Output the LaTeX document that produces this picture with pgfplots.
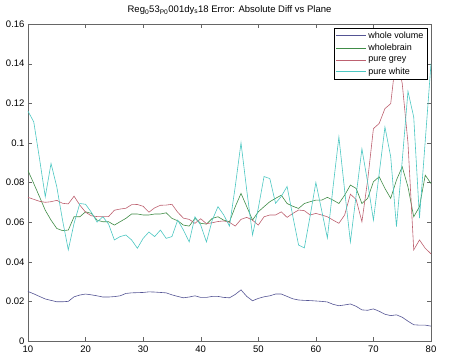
\documentclass[border=0pt]{standalone}
\usepackage{pgfplots}
\pgfplotsset{compat=1.18}
\usepackage{fontspec}
\setmainfont{Liberation Sans}
\definecolor{cvol}{rgb}{0.33,0.33,0.58}
\definecolor{cbrain}{rgb}{0.25,0.55,0.28}
\definecolor{cgrey}{rgb}{0.74,0.38,0.44}
\definecolor{cwhite}{rgb}{0.30,0.78,0.76}
\pgfplotstableread{
x vol brain grey white
10 0.0250 0.0860 0.0725 0.1160
11 0.0238 0.0795 0.0715 0.1106
12 0.0225 0.0728 0.0705 0.0920
13 0.0212 0.0660 0.0700 0.0728
14 0.0205 0.0610 0.0703 0.0896
15 0.0198 0.0568 0.0710 0.0778
16 0.0198 0.0557 0.0695 0.0610
17 0.0200 0.0560 0.0692 0.0460
18 0.0223 0.0627 0.0731 0.0594
19 0.0232 0.0627 0.0686 0.0694
20 0.0237 0.0652 0.0650 0.0690
21 0.0233 0.0644 0.0632 0.0650
22 0.0228 0.0610 0.0628 0.0600
23 0.0222 0.0602 0.0627 0.0627
24 0.0222 0.0602 0.0628 0.0590
25 0.0224 0.0585 0.0660 0.0510
26 0.0228 0.0602 0.0666 0.0527
27 0.0240 0.0619 0.0670 0.0535
28 0.0243 0.0641 0.0688 0.0510
29 0.0244 0.0641 0.0689 0.0468
30 0.0245 0.0636 0.0680 0.0518
31 0.0248 0.0636 0.0650 0.0550
32 0.0247 0.0641 0.0672 0.0527
33 0.0245 0.0641 0.0685 0.0560
34 0.0243 0.0647 0.0686 0.0518
35 0.0233 0.0619 0.0690 0.0527
36 0.0225 0.0607 0.0650 0.0610
37 0.0218 0.0585 0.0620 0.0560
38 0.0222 0.0580 0.0614 0.0500
39 0.0228 0.0619 0.0594 0.0627
40 0.0220 0.0594 0.0617 0.0585
41 0.0220 0.0590 0.0592 0.0500
42 0.0225 0.0619 0.0597 0.0610
43 0.0225 0.0627 0.0603 0.0678
44 0.0220 0.0610 0.0606 0.0636
45 0.0218 0.0602 0.0599 0.0580
46 0.0235 0.0678 0.0580 0.0780
47 0.0258 0.0745 0.0614 0.1000
48 0.0225 0.0678 0.0624 0.0760
49 0.0203 0.0610 0.0610 0.0535
50 0.0215 0.0652 0.0585 0.0670
51 0.0223 0.0678 0.0627 0.0830
52 0.0228 0.0703 0.0636 0.0820
53 0.0237 0.0720 0.0636 0.0695
54 0.0237 0.0736 0.0652 0.0730
55 0.0225 0.0694 0.0624 0.0780
56 0.0213 0.0680 0.0644 0.0630
57 0.0207 0.0669 0.0661 0.0484
58 0.0205 0.0694 0.0658 0.0470
59 0.0204 0.0703 0.0636 0.0630
60 0.0202 0.0711 0.0644 0.0800
61 0.0200 0.0711 0.0636 0.0660
62 0.0197 0.0725 0.0627 0.0520
63 0.0185 0.0711 0.0610 0.0780
64 0.0178 0.0694 0.0594 0.1030
65 0.0182 0.0736 0.0636 0.0760
66 0.0187 0.0787 0.0741 0.0500
67 0.0175 0.0770 0.0714 0.0736
68 0.0157 0.0694 0.0602 0.0970
69 0.0155 0.0720 0.0812 0.0800
70 0.0162 0.0804 0.1072 0.0610
71 0.0150 0.0829 0.1098 0.0845
72 0.0135 0.0770 0.1173 0.1080
73 0.0128 0.0720 0.1198 0.0930
74 0.0132 0.0812 0.1450 0.0577
75 0.0120 0.0879 0.1300 0.0910
76 0.0100 0.0778 0.1000 0.1260
77 0.0082 0.0627 0.0460 0.1130
78 0.0080 0.0678 0.0510 0.0620
79 0.0080 0.0837 0.0468 0.1010
80 0.0075 0.0795 0.0440 0.1400
}\datatable
\begin{document}
\begin{tikzpicture}
\path[use as bounding box] (-28pt,-18pt) rectangle (425pt,341pt);
\begin{axis}[
  scale only axis, width=403pt, height=317pt,
  xmin=10, xmax=80, ymin=0, ymax=0.16,
  xtick={10,20,30,40,50,60,70,80},
  ytick={0,0.02,0.04,0.06,0.08,0.1,0.12,0.14,0.16},
  scaled y ticks=false,
  yticklabel style={/pgf/number format/fixed, /pgf/number format/precision=2},
  xticklabel style={yshift=-1.5pt},
  /pgf/number format/assume math mode=true,
  tick align=inside, major tick length=4pt,
  axis line style={black!60}, tick style={black!60},
  tick label style={font=\fontsize{9.5}{10}\selectfont, black},
  title={Reg\textsubscript{0}53\textsubscript{P0}001dy\textsubscript{s}18 Error: Absolute Diff vs Plane},
  title style={font=\fontsize{9.5}{10}\selectfont, at={(0.5,1)}, anchor=base, yshift=5pt},
  legend style={at={(1,1)}, anchor=north east, xshift=-4pt, yshift=-4pt,
    draw=black, fill=white, font=\fontsize{9}{10}\selectfont,
    inner sep=1.5pt, row sep=0.5pt, cells={anchor=west}},
  legend image code/.code={\draw[#1] (0pt,0pt) -- (30pt,0pt);},
  every axis plot/.append style={line width=0.6pt},
]
\addplot[cvol] table[x=x,y=vol] {\datatable};
\addlegendentry{whole volume}
\addplot[cbrain] table[x=x,y=brain] {\datatable};
\addlegendentry{wholebrain}
\addplot[cgrey] table[x=x,y=grey] {\datatable};
\addlegendentry{pure grey}
\addplot[cwhite] table[x=x,y=white] {\datatable};
\addlegendentry{pure white}
\end{axis}
\end{tikzpicture}
\end{document}
